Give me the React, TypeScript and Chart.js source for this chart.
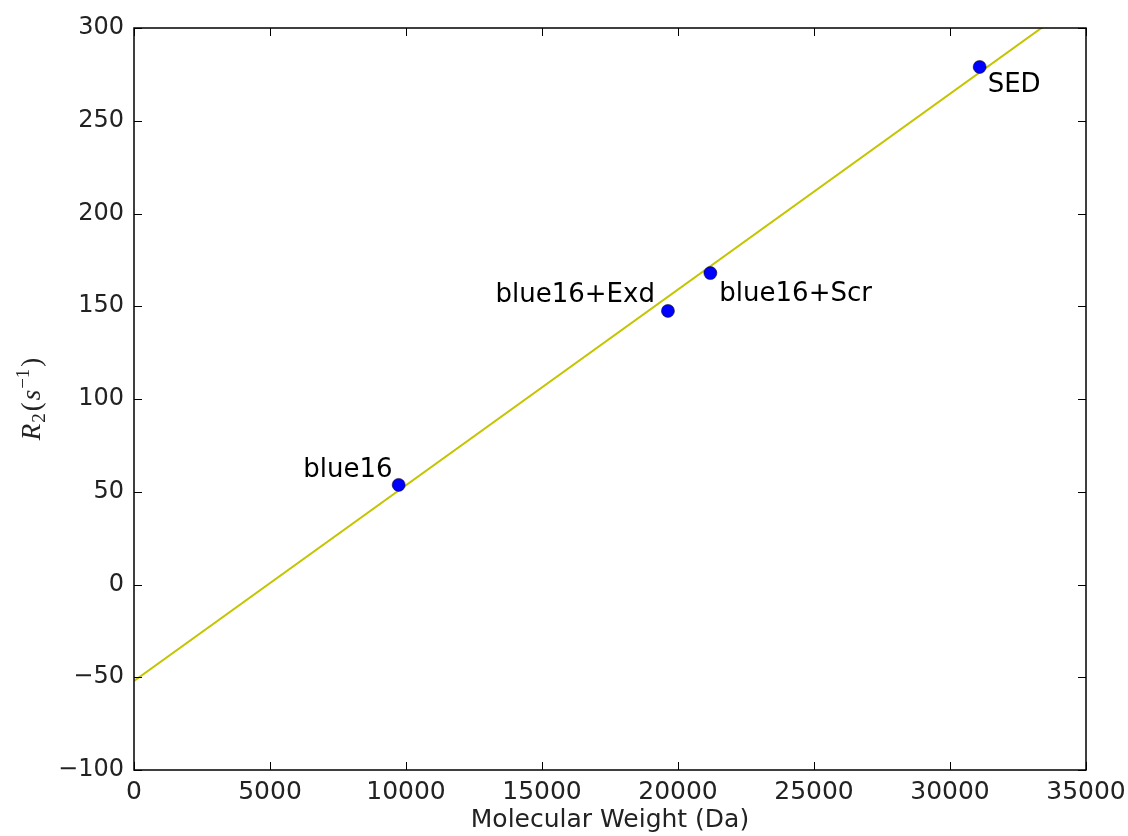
import React, { useEffect, useRef } from "react";
import { Chart, registerables } from "chart.js";

Chart.register(...registerables);

const compounds = ["blue16", "blue16+Exd", "blue16+Scr", "SED"];
const molecularWeights = [9730, 19630, 21190, 31090];
const r2Values = [53.7, 147.5, 167.9, 279];
const fitX = [0, 35000];
const fitY = [-52, 317.3];
const xAxisTitle = "Molecular Weight (Da)";

const FONT = "'DejaVu Sans', sans-serif";

const labelOffsets = [
  { dx: -6, dy: -8, align: "right" },
  { dx: -13, dy: -9, align: "right" },
  { dx: 9, dy: 28, align: "left" },
  { dx: 8, dy: 25, align: "left" },
];

const decorPlugin = {
  id: "decor",
  afterDraw(chart: any) {
    const ctx = chart.ctx;
    const { left, right, top, bottom } = chart.chartArea;
    const xs = chart.scales.x;
    const ys = chart.scales.y;
    ctx.save();
    // annotations
    const meta = chart.getDatasetMeta(0);
    ctx.font = `26px ${FONT}`;
    ctx.fillStyle = "#000";
    ctx.textBaseline = "alphabetic";
    meta.data.forEach((pt: any, i: number) => {
      const o = labelOffsets[i];
      ctx.textAlign = o.align;
      ctx.fillText(compounds[i], pt.x + o.dx, pt.y + o.dy);
    });
    // frame
    ctx.strokeStyle = "#000";
    ctx.lineWidth = 1.5;
    ctx.strokeRect(left, top, right - left, bottom - top);
    // inward ticks
    ctx.lineWidth = 1;
    ctx.beginPath();
    xs.ticks.forEach((t: any) => {
      const px = Math.round(xs.getPixelForValue(t.value)) + 0.5;
      ctx.moveTo(px, bottom);
      ctx.lineTo(px, bottom - 8);
      ctx.moveTo(px, top);
      ctx.lineTo(px, top + 8);
    });
    ys.ticks.forEach((t: any) => {
      const py = Math.round(ys.getPixelForValue(t.value)) + 0.5;
      ctx.moveTo(left, py);
      ctx.lineTo(left + 8, py);
      ctx.moveTo(right, py);
      ctx.lineTo(right - 8, py);
    });
    ctx.stroke();
    // y title: R_2(s^{-1})
    const cy = (top + bottom) / 2;
    const serif = "'Liberation Serif', serif";
    const pieces = [
      { t: "R", f: `italic 27px ${serif}`, dy: 0, gap: 1 },
      { t: "2", f: `19px ${serif}`, dy: 5, gap: 2 },
      { t: "(", f: `27px ${serif}`, dy: 0, gap: 2 },
      { t: "s", f: `italic 27px ${serif}`, dy: 0, gap: 1 },
      { t: "\u22121", f: `19px ${serif}`, dy: -11, gap: 2 },
      { t: ")", f: `27px ${serif}`, dy: 0, gap: 0 },
    ];
    let total = 0;
    pieces.forEach((p) => {
      ctx.font = p.f;
      total += ctx.measureText(p.t).width + p.gap;
    });
    ctx.translate(40, cy);
    ctx.rotate(-Math.PI / 2);
    ctx.textAlign = "left";
    ctx.textBaseline = "alphabetic";
    ctx.fillStyle = "#222";
    let x = -total / 2;
    pieces.forEach((p) => {
      ctx.font = p.f;
      ctx.fillText(p.t, x, p.dy);
      x += ctx.measureText(p.t).width + p.gap;
    });
    ctx.restore();
  },
};

const zeroPad = (s: any) => {
  s.paddingLeft = 0;
  s.paddingRight = 0;
  s.paddingTop = 0;
  s.paddingBottom = 0;
};

export default function App() {
  const ref = useRef<HTMLCanvasElement>(null);
  useEffect(() => {
    if (!ref.current) return;
    const chart = new Chart(ref.current, {
      type: "scatter",
      data: {
        datasets: [
          {
            data: molecularWeights.map((x, i) => ({ x, y: r2Values[i] })),
            backgroundColor: "#0000ff",
            borderColor: "#000",
            borderWidth: 0.5,
            pointRadius: 6.5,
            order: 0,
          },
          {
            data: fitX.map((x, i) => ({ x, y: fitY[i] })),
            showLine: true,
            borderColor: "#c4c400",
            borderWidth: 2,
            pointRadius: 0,
            order: 1,
          },
        ],
      },
      options: {
        responsive: false,
        animation: false,
        layout: { padding: { left: 0, top: 28, right: 42, bottom: 0 } },
        plugins: { legend: { display: false }, tooltip: { enabled: false } },
        scales: {
          x: {
            type: "linear",
            min: 0,
            max: 35000,
            grid: { display: false, drawTicks: false },
            border: { display: false },
            ticks: {
              stepSize: 5000,
              padding: 7,
              color: "#222",
              font: { family: FONT, size: 25 },
              maxRotation: 0,
              callback: (v: any) => String(v),
            },
            title: {
              display: true,
              text: xAxisTitle,
              color: "#222",
              font: { family: FONT, size: 25 },
              padding: { top: 0, bottom: 1 },
            },
            afterFit: (s: any) => {
              s.height = 66;
              zeroPad(s);
            },
          },
          y: {
            type: "linear",
            min: -100,
            max: 300,
            grid: { display: false, drawTicks: false },
            border: { display: false },
            ticks: {
              stepSize: 50,
              padding: 10,
              color: "#222",
              font: { family: FONT, size: 24 },
              callback: (v: any) => String(v).replace("-", "\u2212"),
            },
            afterFit: (s: any) => {
              s.width = 134;
              zeroPad(s);
            },
          },
        },
      },
      plugins: [decorPlugin],
    });
    return () => chart.destroy();
  }, []);
  return (
    <div style={{ position: "fixed", left: 0, top: 0, width: 1128, height: 836, background: "#fff" }}>
      <canvas ref={ref} width={1128} height={836} style={{ display: "block" }} />
    </div>
  );
}
